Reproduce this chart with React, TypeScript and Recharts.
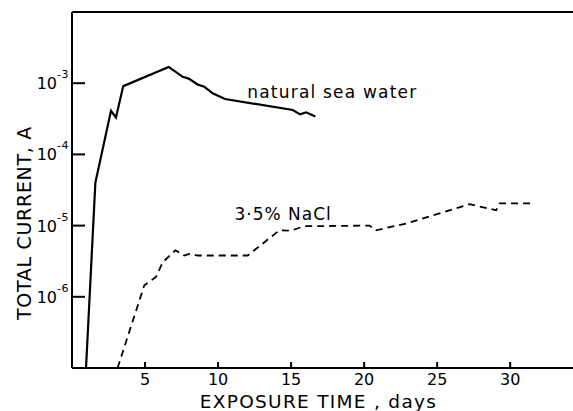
import React from 'react';
import { LineChart, Line, XAxis, YAxis, ReferenceLine, ReferenceDot, Label } from 'recharts';

// natural sea water (solid)
const seaDays = [0.96, 1.6, 2.67, 3.01, 3.51, 6.62, 7.58, 7.99, 8.6, 9.06, 9.63, 10.48, 15.11, 15.62, 16.03, 16.66];
const seaCurrent = [1e-7, 4.0e-5, 4.1e-4, 3.3e-4, 9.1e-4, 1.69e-3, 1.23e-3, 1.16e-3, 9.6e-4, 8.9e-4, 7.2e-4, 6.0e-4, 4.2e-4, 3.65e-4, 3.9e-4, 3.4e-4];

// 3.5% NaCl (dashed)
const naclDays = [3.12, 4.95, 5.75, 6.21, 7.08, 7.69, 8.03, 8.6, 12.03, 14.2, 15.0, 15.9, 20.36, 20.82, 22.88, 27.21, 29.04, 29.27, 31.55];
const naclCurrent = [1e-7, 1.45e-6, 1.9e-6, 3.05e-6, 4.5e-6, 3.8e-6, 4.0e-6, 3.8e-6, 3.8e-6, 8.6e-6, 8.5e-6, 9.8e-6, 1.0e-5, 8.6e-6, 1.07e-5, 2.0e-5, 1.64e-5, 2.05e-5, 2.05e-5];

const xTicks = [5, 10, 15, 20, 25, 30];
const yTicks = [1e-6, 1e-5, 1e-4, 1e-3];

const seaData = seaDays.map((d, i) => ({ day: d, current: seaCurrent[i] }));
const naclData = naclDays.map((d, i) => ({ day: d, current: naclCurrent[i] }));

const FONT = '"DejaVu Sans", sans-serif';

const YTick = ({ x, y, payload }: any) => {
  const exp = Math.round(Math.log10(payload.value));
  return (
    <g>
      <line x1={x} x2={x + 13} y1={y} y2={y} stroke="#000" strokeWidth={2} />
      <text x={x - 3} y={y + 6} textAnchor="end" fontFamily={FONT} fontSize={16} fill="#000">
        10<tspan dy={-11} fontSize={11} letterSpacing={0.5}>{`-${-exp}`}</tspan>
      </text>
    </g>
  );
};

const XTick = ({ x, y, payload }: any) => (
  <g>
    <line x1={x} x2={x} y1={y - 6} y2={y} stroke="#000" strokeWidth={2} />
    <text x={x} y={y + 17} textAnchor="middle" fontFamily={FONT} fontSize={16} fill="#000">
      {payload.value}
    </text>
  </g>
);

const XLabel = ({ viewBox }: any) => (
  <text x={viewBox.x + viewBox.width / 2 - 4} y={viewBox.y + 40} textAnchor="middle" fontFamily={FONT} fontSize={18.5} letterSpacing={1.3} fill="#000">
    EXPOSURE TIME , days
  </text>
);

const YLabel = ({ viewBox }: any) => {
  const cx = viewBox.x + 30.5;
  const cy = viewBox.y + viewBox.height / 2 + 33;
  return (
    <text x={cx} y={cy} transform={`rotate(-90 ${cx} ${cy})`} textAnchor="middle" fontFamily={FONT} fontSize={19} letterSpacing={0.7} fill="#000">
      TOTAL CURRENT, A
    </text>
  );
};

export default function App() {
  return (
    <div style={{ position: 'absolute', left: 0, top: 0, width: 573, height: 411, background: '#fff' }}>
      <LineChart width={573} height={411} margin={{ top: 12, right: 0, bottom: 0, left: 0 }}>
        <XAxis
          type="number"
          dataKey="day"
          domain={[0, 34.3]}
          ticks={xTicks}
          allowDataOverflow
          height={43}
          axisLine={{ stroke: '#000', strokeWidth: 2 }}
          tickLine={false}
          tickSize={0}
          tickMargin={0}
          tick={<XTick />}
        >
          <Label content={<XLabel />} />
        </XAxis>
        <YAxis
          type="number"
          scale="log"
          domain={[1e-7, 1e-2]}
          ticks={yTicks}
          allowDataOverflow
          width={72}
          axisLine={{ stroke: '#000', strokeWidth: 2 }}
          tickLine={false}
          tickSize={0}
          tickMargin={0}
          tick={<YTick />}
        >
          <Label content={<YLabel />} />
        </YAxis>
        <ReferenceLine y={1e-2} stroke="#000" strokeWidth={2} />
        <Line
          data={seaData}
          dataKey="current"
          type="linear"
          stroke="#000"
          strokeWidth={2.2}
          dot={false}
          isAnimationActive={false}
        />
        <Line
          data={naclData}
          dataKey="current"
          type="linear"
          stroke="#000"
          strokeWidth={1.8}
          strokeDasharray="7 5"
          dot={false}
          isAnimationActive={false}
        />
        <ReferenceDot
          x={12.0}
          y={7.5e-4}
          r={0}
          stroke="none"
          label={{ value: 'natural sea water', position: 'right', offset: 0, fontFamily: FONT, fontSize: 17, letterSpacing: 1.2, fill: '#000' }}
        />
        <ReferenceDot
          x={11.12}
          y={1.48e-5}
          r={0}
          stroke="none"
          label={{ value: '3·5% NaCl', position: 'right', offset: 0, fontFamily: FONT, fontSize: 17, letterSpacing: 1, fill: '#000' }}
        />
      </LineChart>
    </div>
  );
}
